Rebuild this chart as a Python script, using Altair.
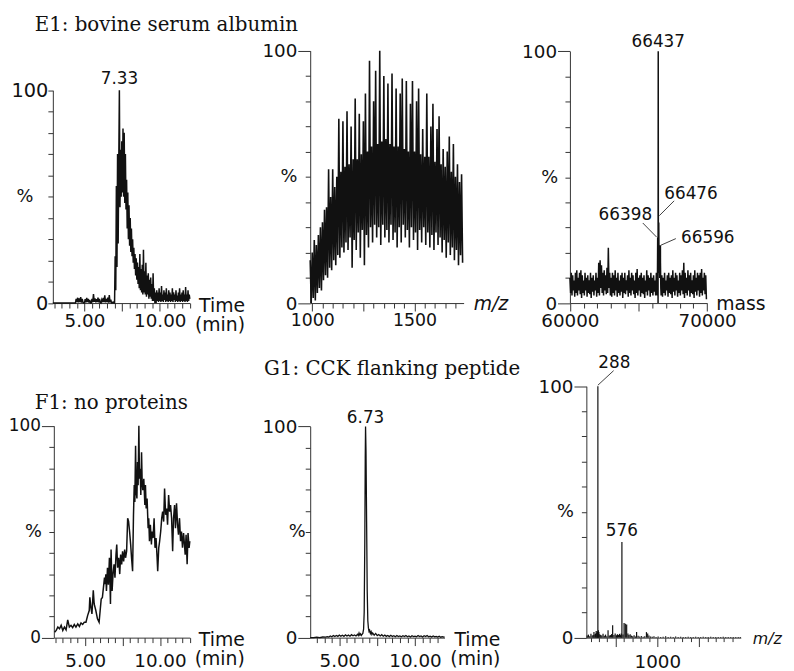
import altair as alt
import pandas as pd

# ---------------------------------------------------------------------------
# Values
# ---------------------------------------------------------------------------

# E1: bovine serum albumin - chromatogram (time in min -> intensity in %)
e1_tic_lead_time = [2.90]
e1_tic_lead_int = [0]
e1_tic_base_start, e1_tic_base_step = 4.40, 0.05
e1_tic_base_int = [
    0, 2, 0.5, 2.5, 0.3, 2.2, 0.5, 2.8, 0.2, 2.0,
    0.4, 0, 0, 1.8, 0.3, 2.4, 0.5, 2.0, 0.2, 1.5,
    0, 0, 2.0, 0.4, 4.2, 0.6, 2.2, 0.3, 1.8, 0.5,
    2.6, 0.3, 2.0, 0.2, 0, 1.5, 0.4, 2.4, 0.5, 3.6,
    0.3, 2.0, 0.5, 2.6, 0.2, 3.8, 0.4, 1.6, 0, 0,
    0.5, 0,
]
e1_tic_peak_start, e1_tic_peak_step = 7.00, 0.04
e1_tic_peak_int = [
    0, 22, 6, 55, 17, 70, 28, 66, 100, 45,
    72, 50, 76, 52, 82, 50, 80, 47, 70, 44,
    58, 35, 52, 30, 46, 27, 40, 24, 35, 22,
    30, 19, 26, 16, 23, 13, 21, 11, 19, 9,
    17, 7, 23, 6, 16, 5, 18, 4, 25, 5,
    15, 4, 19, 3, 13, 4, 14, 2, 11, 3,
    12, 2, 9, 1, 14, 1, 7, 0, 5, 0,
    6, 1, 5, 0.5, 7, 1, 5, 0.5, 8, 1,
    4, 0.5, 6, 1.5, 5, 0.5, 7, 1, 4, 0.5,
    6, 1, 5, 0.5, 4, 1, 7, 0.5, 5, 1.5,
    4, 0.5, 6, 1, 3.5, 0.5, 5, 1, 7, 0.5,
    4, 1, 5, 0.5, 6, 1, 4, 0.5, 7.5, 1,
    4, 0.5, 6, 1, 4, 2,
]

# E1: m/z spectrum, scan maxima (every 10 m/z from 990) and minima (every 10 m/z from 995)
e1_mz_start, e1_mz_step = 990, 10
e1_mz_hi = [
    17, 20, 25, 23, 27, 30, 32, 37, 38, 53,
    42, 53, 46, 50, 73, 52, 72, 54, 76, 55,
    70, 57, 81, 57, 75, 59, 72, 83, 60, 96,
    62, 80, 92, 63, 100, 64, 90, 65, 87, 63,
    91, 62, 85, 62, 83, 89, 61, 88, 60, 79,
    88, 60, 80, 85, 59, 69, 58, 83, 58, 70,
    79, 56, 69, 74, 55, 61, 54, 60, 66, 52,
    63, 50, 55, 48, 51,
]
e1_mz_lo = [
    0, 2, 1, 4, 6, 5, 9, 11, 10, 14,
    13, 17, 15, 19, 18, 22, 20, 24, 21, 26,
    14, 25, 21, 28, 18, 29, 15, 27, 22, 30,
    24, 31, 26, 30, 23, 31, 26, 29, 24, 31,
    25, 28, 22, 30, 24, 31, 26, 29, 22, 30,
    25, 28, 21, 29, 24, 30, 23, 28, 22, 27,
    21, 28, 23, 26, 20, 25, 18, 24, 19, 22,
    17, 21, 15, 19, 16,
]

# E1: deconvoluted mass spectrum, noise maxima (every 100 Da from 60000) and minima (from 60050)
e1_mass_start, e1_mass_step = 60000, 100
e1_mass_hi = [
    10, 12, 11, 9, 12, 13, 10, 12, 13, 11,
    9, 12, 10, 11, 9, 12, 10, 11, 9, 12,
    10, 16, 17, 15, 12, 13, 11, 14, 22, 12,
    10, 12, 11, 13, 10, 12, 9, 11, 12, 10,
    12, 9, 11, 13, 10, 12, 11, 9, 12, 13.5,
    10, 11, 12, 10, 11, 9, 13, 11, 10, 12,
    10, 11, 9, 12, 18, 14, 16, 11, 10, 12,
    9, 11, 12, 10, 11, 13, 10, 12, 11, 9,
    12, 11, 13, 16, 12, 10, 13, 11, 12, 9,
    11, 13, 10, 12, 11, 12, 13.5, 10, 12, 11,
]
e1_mass_lo = [
    4, 3, 5, 2.5, 4, 3, 5, 3.5, 2, 4,
    3, 5, 2.5, 4, 3.5, 2, 4.5, 3, 5, 2.5,
    4, 3, 6, 4, 3, 5, 3.5, 4, 6, 3,
    2.5, 4, 3, 5, 2.5, 4, 3, 4.5, 2, 4,
    3.5, 5, 2.5, 4, 3, 5, 3.5, 2, 4, 3,
    5, 2.5, 4, 3.5, 2, 4.5, 3, 5, 2.5, 4,
    3, 4.5, 3, 4, 12, 10, 3, 2.5, 4, 3,
    5, 2.5, 4, 3.5, 2, 4.5, 3, 5, 2.5, 4,
    3, 5, 3.5, 2, 4, 3, 5, 2.5, 4, 3.5,
    2, 4.5, 3, 5, 2.5, 4, 3, 5, 3.5, 1.5,
]
e1_mass_peak_x = [66370, 66398, 66415, 66425, 66437, 66447, 66476, 66520, 66596, 66625]
e1_mass_peak_y = [3, 26, 14, 0, 100, 20, 32, 18, 23, 6]

# F1: no proteins - chromatogram
f1_time = [
    2.95, 3.06, 3.17, 3.28, 3.39, 3.50, 3.61, 3.72, 3.83, 3.94,
    4.05, 4.16, 4.27, 4.38, 4.50, 4.61, 4.72, 4.83, 4.94, 5.05,
    5.16, 5.27, 5.31, 5.38, 5.45, 5.54, 5.60, 5.71, 5.82, 5.93,
    6.00, 6.07, 6.15, 6.22, 6.29, 6.33, 6.38, 6.42, 6.49, 6.55,
    6.62, 6.69, 6.73, 6.80, 6.86, 6.93, 6.99, 7.06, 7.11, 7.17,
    7.24, 7.31, 7.37, 7.44, 7.50, 7.57, 7.64, 7.70, 7.77, 7.84,
    7.90, 7.97, 8.04, 8.10, 8.17, 8.23, 8.28, 8.32, 8.37, 8.41,
    8.46, 8.50, 8.54, 8.59, 8.63, 8.68, 8.72, 8.77, 8.81, 8.85,
    8.92, 8.99, 9.03, 9.08, 9.14, 9.21, 9.25, 9.30, 9.36, 9.43,
    9.47, 9.54, 9.61, 9.67, 9.74, 9.81, 9.85, 9.92, 9.98, 10.05,
    10.12, 10.18, 10.25, 10.31, 10.38, 10.45, 10.51, 10.58, 10.65, 10.71,
    10.78, 10.85, 10.91, 10.98, 11.04, 11.11, 11.18, 11.24, 11.31, 11.38,
    11.44, 11.51, 11.58, 11.64, 11.69, 11.75, 11.82, 11.88, 11.95, 12.00,
]
f1_int = [
    2.6, 3.4, 5.0, 4.2, 5.8, 3.4, 5.0, 3.7, 8.4, 5.0,
    5.8, 4.7, 6.2, 5.0, 6.5, 5.3, 6.9, 6.2, 7.3, 7.3,
    10.4, 12.8, 19.0, 14.3, 11.2, 22.4, 15.9, 12.8, 8.9, 7.3,
    12.8, 18.2, 19.0, 23.7, 28.3, 25.2, 29.9, 22.0, 33.0, 25.0,
    37.7, 15.9, 41.6, 22.0, 30.0, 34.6, 28.3, 39.2, 44.0, 33.0,
    37.7, 30.0, 39.2, 34.6, 40.8, 36.0, 41.6, 37.7, 40.8, 56.4,
    55.0, 50.0, 44.0, 37.7, 31.4, 58.0, 72.0, 64.0, 90.6, 68.8,
    65.7, 82.9, 72.0, 100, 75.0, 79.7, 67.3, 87.5, 73.5, 69.6,
    75.0, 62.6, 72.0, 61.0, 65.7, 51.7, 56.4, 45.5, 53.3, 44.0,
    50.1, 47.0, 56.4, 42.4, 47.0, 37.7, 31.4, 42.4, 45.5, 50.1,
    56.4, 59.5, 54.8, 70.4, 58.0, 61.0, 53.3, 67.3, 59.5, 62.6,
    56.4, 40.8, 56.4, 62.6, 51.7, 63.4, 53.3, 48.6, 56.4, 45.5,
    50.1, 42.4, 49.4, 44.0, 39.2, 48.6, 34.6, 49.4, 42.4, 45.5,
]

# G1: CCK flanking peptide - chromatogram
g1_time = [
    3.07, 3.30, 3.50, 3.70, 3.90, 4.10, 4.20, 4.30, 4.40, 4.50,
    4.60, 4.70, 4.80, 4.90, 5.00, 5.10, 5.20, 5.30, 5.40, 5.50,
    5.60, 5.70, 5.80, 5.90, 6.00, 6.10, 6.20, 6.25, 6.30, 6.35,
    6.40, 6.45, 6.50, 6.55, 6.60, 6.64, 6.68, 6.71, 6.73, 6.76,
    6.80, 6.84, 6.88, 6.92, 6.96, 7.00, 7.05, 7.10, 7.15, 7.20,
    7.30, 7.40, 7.50, 7.60, 7.70, 7.80, 7.90, 8.00, 8.10, 8.20,
    8.30, 8.40, 8.50, 8.60, 8.70, 8.80, 8.90, 9.00, 9.10, 9.20,
    9.30, 9.40, 9.50, 9.60, 9.70, 9.80, 9.90, 10.00, 10.10, 10.20,
    10.30, 10.40, 10.50, 10.60, 10.70, 10.80, 10.90, 11.00, 11.10, 11.20,
    11.30, 11.40, 11.50, 11.60, 11.70, 11.80, 11.90, 11.95,
]
g1_int = [
    0, 0, 0.2, 0, 0.3, 0.2, 0.5, 0.3, 0.8, 0.4,
    1.0, 0.5, 1.0, 0.6, 1.2, 0.7, 1.1, 0.6, 1.3, 0.8,
    1.2, 0.7, 1.4, 0.9, 1.3, 0.8, 1.6, 1.0, 2.2, 1.2,
    1.8, 1.0, 1.5, 2.0, 4, 12, 45, 85, 100, 88,
    55, 22, 8, 4.5, 3, 3.5, 2, 2.8, 1.5, 2.2,
    1.2, 2.0, 1.0, 1.5, 0.8, 1.4, 0.7, 1.2, 0.6, 1.0,
    0.5, 1.1, 0.5, 0.9, 0.4, 1.0, 0.5, 0.8, 0.4, 0.9,
    0.5, 1.0, 0.4, 0.8, 0.3, 0.9, 0.5, 0.7, 0.4, 1.0,
    0.5, 0.8, 0.3, 0.9, 0.5, 1.0, 0.4, 0.7, 0.3, 0.8,
    0.4, 0.6, 0.3, 0.7, 0.2, 0.5, 0.3, 0.3,
]

# G1: m/z spectrum (centroid sticks)
g1_mz = [
    160, 175, 190, 205, 220, 232, 241, 252, 260, 268,
    276, 282, 288, 294, 300, 310, 322, 335, 350, 365,
    380, 395, 410, 425, 440, 452, 465, 480, 495, 510,
    522, 535, 548, 560, 568, 576, 589, 602, 617, 633,
    648, 660, 675, 690, 705, 722, 740, 752, 770, 790,
    810, 830, 850, 870, 885, 900, 920, 940, 960, 985,
    1010, 1040, 1070, 1100, 1130, 1160, 1190, 1220, 1250, 1280,
    1310, 1340, 1370, 1400, 1430, 1460, 1490, 1520, 1550, 1580,
    1610, 1640, 1670, 1700, 1730, 1760, 1790, 1820, 1850, 1880,
    1910, 1940, 1970, 1995,
]
g1_mz_int = [
    0.8, 1.2, 0.6, 1.5, 0.8, 1.0, 2.2, 1.2, 1.6, 2.6,
    1.8, 2.4, 100, 2.9, 2.2, 1.3, 1.0, 0.8, 1.5, 0.7,
    1.2, 0.6, 2.9, 0.8, 1.0, 1.4, 4.9, 1.0, 1.6, 0.9,
    1.3, 1.1, 1.5, 1.0, 1.6, 38, 1.2, 5.8, 5.5, 5.2,
    1.6, 1.0, 1.3, 0.8, 0.6, 0.9, 0.5, 2.2, 0.7, 0.5,
    0.6, 0.4, 0.6, 2.2, 1.6, 0.8, 0.5, 0.4, 0.6, 0.3,
    0.5, 0.3, 0.4, 0.6, 0.3, 0.4, 0.3, 0.5, 0.3, 0.4,
    0.3, 0.3, 0.4, 0.3, 0.3, 0.4, 0.3, 0.3, 0.4, 0.3,
    0.3, 0.4, 0.3, 0.3, 0.3, 0.3, 0.4, 0.3, 0.3, 0.3,
    0.3, 0.3, 0.3, 0.3,
]

# ---------------------------------------------------------------------------
# Tables built from the arrays
# ---------------------------------------------------------------------------
e1_tic = pd.DataFrame({
    "x": e1_tic_lead_time
    + [round(e1_tic_base_start + i * e1_tic_base_step, 3) for i in range(len(e1_tic_base_int))]
    + [round(e1_tic_peak_start + i * e1_tic_peak_step, 3) for i in range(len(e1_tic_peak_int))],
    "y": e1_tic_lead_int + e1_tic_base_int + e1_tic_peak_int,
}).sort_values("x")

e1_mz = pd.DataFrame({
    "x": [e1_mz_start + i * e1_mz_step for i in range(len(e1_mz_hi))]
    + [e1_mz_start + e1_mz_step / 2 + i * e1_mz_step for i in range(len(e1_mz_lo))],
    "y": e1_mz_hi + e1_mz_lo,
}).sort_values("x")

e1_mass = pd.DataFrame({
    "x": [e1_mass_start + i * e1_mass_step for i in range(len(e1_mass_hi))]
    + [e1_mass_start + e1_mass_step / 2 + i * e1_mass_step for i in range(len(e1_mass_lo))]
    + e1_mass_peak_x,
    "y": e1_mass_hi + e1_mass_lo + e1_mass_peak_y,
}).sort_values("x")

f1_tic = pd.DataFrame({"x": f1_time, "y": f1_int})
g1_tic = pd.DataFrame({"x": g1_time, "y": g1_int})
g1_ms = pd.DataFrame({"x": g1_mz, "y": g1_mz_int, "base": [0] * len(g1_mz)})

# ---------------------------------------------------------------------------
# Styling / layout
# ---------------------------------------------------------------------------
SANS = "DejaVu Sans"
SERIF = "DejaVu Serif"
INK = "#111111"
AXC = "#333333"
W, H = 786, 663


def x_axis(values, major, labels, title, tx, ty, y0, align="right",
           italic=False, minor=5, major_size=8, pad=1, lsize=18.5, tsize=19):
    test = " || ".join(f"datum.value == {v}" for v in major)
    lab = " : ".join(f"datum.value == {v} ? '{t}'" for v, t in labels) + " : ''"
    kw = dict(
        orient="bottom", offset=y0 - H, values=values, grid=False,
        domainColor=AXC, tickColor=AXC, domainWidth=1, tickWidth=1,
        tickSize={"condition": {"test": test, "value": major_size}, "value": minor},
        labelExpr=lab, labelFont=SANS, labelFontSize=lsize, labelColor=INK,
        labelPadding=pad, labelFlush=False, labelOverlap=False, labelBaseline="top",
        title=title, titleX=tx, titleY=ty, titleAlign=align, titleBaseline="alphabetic",
        titleAngle=0, titleFont=SANS, titleFontSize=tsize, titleFontWeight="normal",
        titleColor=INK, titleLineHeight=19, titleLimit=1000,
    )
    if italic:
        kw["titleFontStyle"] = "italic"
    return alt.Axis(**kw)


def y_axis(x0, y50, pct_dx, major_size=12.5, pad=1, lsize=18.5):
    return alt.Axis(
        orient="left", offset=-x0, values=list(range(0, 101, 10)), grid=False,
        domainColor=AXC, tickColor=AXC, domainWidth=1, tickWidth=1,
        tickSize={"condition": {"test": "datum.value == 0 || datum.value == 100",
                                "value": major_size}, "value": 5},
        labelExpr="datum.value == 100 ? '100' : datum.value == 0 ? '0' : ''",
        labelFont=SANS, labelFontSize=lsize, labelColor=INK, labelPadding=pad,
        labelFlush=False, labelOverlap=False, labelBaseline="middle",
        title="%", titleX=pct_dx, titleY=y50, titleAlign="right", titleBaseline="middle",
        titleAngle=0, titleFont=SANS, titleFontSize=18, titleFontWeight="normal",
        titleColor=INK, titleLimit=1000,
    )


def scales(xdom, xr, yr):
    return (alt.Scale(domain=xdom, range=xr, nice=False, zero=False),
            alt.Scale(domain=[0, 100], range=yr, nice=False, zero=False))


def trace(df, sx, sy, xa, ya, width=1.0):
    return alt.Chart(df).mark_line(color=INK, strokeWidth=width).encode(
        x=alt.X("x:Q", scale=sx, axis=xa), y=alt.Y("y:Q", scale=sy, axis=ya))


def labels(df, sx, sy, dy=0, size=17):
    return alt.Chart(df).mark_text(dy=dy, font=SANS, fontSize=size, color=INK,
                                   align="center", baseline="alphabetic").encode(
        x=alt.X("x:Q", scale=sx, axis=None), y=alt.Y("y:Q", scale=sy, axis=None),
        text="label:N")


def leaders(df, sx, sy):
    return alt.Chart(df).mark_rule(color=INK, strokeWidth=0.8).encode(
        x=alt.X("x:Q", scale=sx, axis=None), y=alt.Y("y:Q", scale=sy, axis=None),
        x2="x2:Q", y2="y2:Q")


def title_text(text, px, py):
    return alt.Chart(pd.DataFrame({"label": [text]})).mark_text(
        align="left", baseline="alphabetic", font=SERIF, fontSize=20, color=INK
    ).encode(x=alt.value(px), y=alt.value(py), text="label:N")


time_ticks = [3 + 0.5 * i for i in range(19)]
time_labels = [(5, "5.00"), (10, "10.00")]
time_major = [5, 7.5, 10]
layers = []

# Panel 1: E1 chromatogram
sx1, sy1 = scales([2.9, 12.0], [45.3, 183.7], [294.7, 79.7])
layers += [
    trace(e1_tic, sx1, sy1,
          x_axis(time_ticks, time_major, time_labels, ["Time", "(min)"], 239, 8.4, 294.7),
          y_axis(45.3, 187.2, -20, major_size=5, pad=0, lsize=19.5), width=1.5),
    labels(pd.DataFrame({"x": [7.33], "y": [100], "label": ["7.33"]}), sx1, sy1, dy=-6),
]

# Panel 2: E1 m/z spectrum
sx2, sy2 = scales([990, 1740], [305.3, 460.3], [294.7, 39.7])
layers += [
    trace(e1_mz, sx2, sy2,
          x_axis([1000 + 50 * i for i in range(15)], [1000, 1250, 1500],
                 [(1000, "1000"), (1500, "1500")], "m/z", 470, 6.5, 294.7,
                 align="left", italic=True, lsize=17.5),
          y_axis(305.3, 167.2, -13.3), width=1.6),
]

# Panel 3: E1 deconvoluted mass
sx3, sy3 = scales([60000, 70000], [567.7, 706.3], [294.7, 40.3])
layers += [
    trace(e1_mass, sx3, sy3,
          x_axis([60000 + 1000 * i for i in range(11)], [60000, 65000, 70000],
                 [(60000, "60000"), (70000, "70000")], "mass", 715, 7, 294.7,
                 align="left"),
          y_axis(567.7, 167.5, -12.4), width=1.5),
    labels(pd.DataFrame({"x": [66437], "y": [100], "label": ["66437"]}), sx3, sy3, dy=-4),
    labels(pd.DataFrame({"x": [68824, 64040, 70050], "y": [41.3, 32.9, 24.0],
                         "label": ["66476", "66398", "66596"]}), sx3, sy3),
    leaders(pd.DataFrame({"x": [66515, 66320, 66638], "y": [34.7, 26.2, 23.0],
                          "x2": [67597, 65310, 67720], "y2": [40.6, 31.8, 25.6]}), sx3, sy3),
]

# Panel 4: F1 chromatogram
sx4, sy4 = scales([2.9, 12.0], [46.3, 183.7], [632.7, 418.7])
layers += [
    trace(f1_tic, sx4, sy4,
          x_axis(time_ticks, time_major, time_labels, ["Time", "(min)"], 238.7, 8.4, 632.7,
                 pad=6),
          y_axis(46.3, 525.7, -12.6, lsize=17), width=1.5),
]

# Panel 5: G1 chromatogram
sx5, sy5 = scales([3.07, 11.95], [305.3, 441.0], [632.7, 419.3])
layers += [
    trace(g1_tic, sx5, sy5,
          x_axis([3.5 + 0.5 * i for i in range(17)], time_major, time_labels,
                 ["Time", "(min)"], 497, 8.4, 632.7, pad=6),
          y_axis(305.3, 526.0, -5), width=1.3),
    labels(pd.DataFrame({"x": [6.73], "y": [100], "label": ["6.73"]}), sx5, sy5, dy=-3.5),
]

# Panel 6: G1 m/z spectrum
sx6, sy6 = scales([150, 2000], [584.3, 740.3], [632.7, 378.7])
layers += [
    alt.Chart(g1_ms).mark_rule(color=INK, strokeWidth=1.2).encode(
        x=alt.X("x:Q", scale=sx6,
                axis=x_axis([200 + 100 * i for i in range(18)], [500, 1000, 1500],
                            [(1000, "1000")], "m/z", 752, 6, 632.7,
                            align="left", italic=True, minor=4, major_size=9, pad=6,
                            tsize=16)),
        y=alt.Y("y:Q", scale=sy6, axis=y_axis(584.3, 505.7, -13)),
        y2="base:Q"),
    labels(pd.DataFrame({"x": [576], "y": [38], "label": ["576"]}), sx6, sy6, dy=-6),
    labels(pd.DataFrame({"x": [485], "y": [107.2], "label": ["288"]}), sx6, sy6),
    leaders(pd.DataFrame({"x": [288], "y": [100.4], "x2": [477], "y2": [106.2]}), sx6, sy6),
]

layers += [
    title_text("E1: bovine serum albumin", 27, 20.3),
    title_text("F1: no proteins", 27, 402),
    title_text("G1: CCK flanking peptide", 258.7, 367.7),
]

chart = (
    alt.layer(*layers)
    .resolve_scale(x="independent", y="independent")
    .resolve_axis(x="independent", y="independent")
    .properties(width=W, height=H, padding=0, autosize=alt.AutoSizeParams(type="none"))
    .configure_view(strokeWidth=0)
)

chart.save("out.html", embed_options={"renderer": "svg", "actions": False})
